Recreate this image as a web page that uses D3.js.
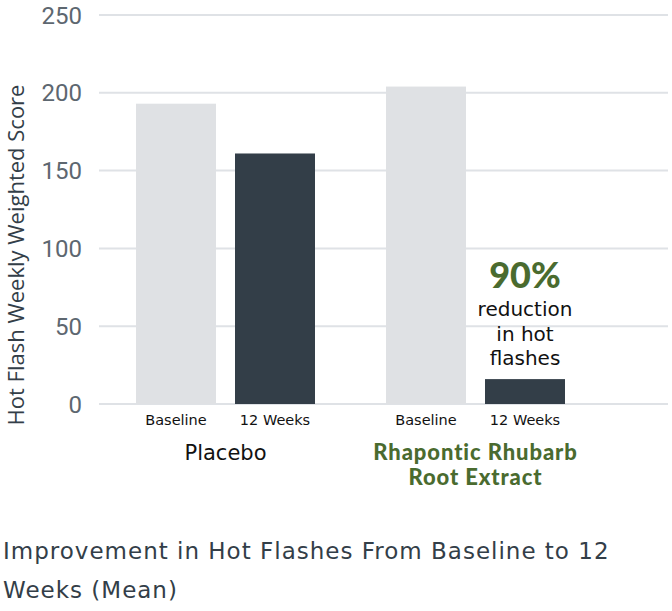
<!DOCTYPE html>
<html lang="en">
<head>
  <meta charset="UTF-8">
  <title>Improvement in Hot Flashes</title>
  <style>
    body { margin: 0; background: #fff; }
    .tick-label { font-family: Roboto, sans-serif; font-size: 24px; fill: #5d6770; }
    .axis-title { font-family: "Open Sans", sans-serif; font-size: 22px; fill: #333e48; }
    .period { font-family: "DejaVu Sans", sans-serif; font-size: 14.5px; fill: #111; }
    .group { font-family: "DejaVu Sans", sans-serif; font-size: 21px; fill: #111; }
    .group-bold { font-family: Lato, sans-serif; font-size: 22px; font-weight: 900; letter-spacing: 0.9px; }
    .note { font-family: "DejaVu Sans", sans-serif; font-size: 20px; fill: #111; }
    .title { font-family: "DejaVu Sans", sans-serif; font-size: 23px; fill: #333e48; letter-spacing: 1px; }
  </style>
</head>
<body>
  <svg id="chart" width="672" height="611"></svg>

  <script src="https://d3js.org/d3.v7.min.js"></script>
  <script>
    // chart data
    const groups = ['Placebo', 'Rhapontic Rhubarb Root Extract'];
    const periods = ['Baseline', '12 Weeks'];
    const placeboValues = [193, 161];
    const rhubarbValues = [204, 16];
    const yTicks = [0, 50, 100, 150, 200, 250];
    const groupLabelLines = [['Placebo'], ['Rhapontic Rhubarb', 'Root Extract']];
    const noteLines = ['reduction', 'in hot', 'flashes'];
    const noteValue = '90%';
    const titleLines = ['Improvement in Hot Flashes From Baseline to 12', 'Weeks (Mean)'];

    const green = '#4a6b2f';
    const barColors = { 'Baseline': '#dfe1e4', '12 Weeks': '#333e48' };

    const rows = [];
    groups.forEach((g, i) => {
      const vals = i === 0 ? placeboValues : rhubarbValues;
      periods.forEach((p, j) => rows.push({ group: g, period: p, value: vals[j] }));
    });

    const svg = d3.select('#chart');

    const y = d3.scaleLinear().domain([0, 250]).range([404, 15]);
    const x0 = d3.scaleBand().domain(groups).range([136, 565]).paddingInner(0.284).paddingOuter(0);
    const x1 = d3.scaleBand().domain(periods).range([0, x0.bandwidth()]).paddingInner(0.192).paddingOuter(0);

    // gridlines + tick labels
    const grid = svg.append('g');
    grid.selectAll('line')
      .data(yTicks)
      .enter().append('line')
      .attr('x1', 99).attr('x2', 668)
      .attr('y1', d => y(d)).attr('y2', d => y(d))
      .attr('stroke', '#dfe2e6')
      .attr('stroke-width', 2);
    grid.selectAll('text')
      .data(yTicks)
      .enter().append('text')
      .attr('class', 'tick-label')
      .attr('x', 82)
      .attr('y', d => y(d))
      .attr('dy', '0.36em')
      .attr('text-anchor', 'end')
      .text(d => d);

    svg.append('text')
      .attr('class', 'axis-title')
      .attr('transform', 'translate(24,255) rotate(-90)')
      .attr('text-anchor', 'middle')
      .text('Hot Flash Weekly Weighted Score');

    // bars
    svg.append('g').selectAll('rect')
      .data(rows)
      .enter().append('rect')
      .attr('x', d => x0(d.group) + x1(d.period))
      .attr('y', d => y(d.value))
      .attr('width', x1.bandwidth())
      .attr('height', d => y(0) - y(d.value))
      .attr('fill', d => barColors[d.period]);

    // period labels
    svg.append('g').selectAll('text')
      .data(rows)
      .enter().append('text')
      .attr('class', 'period')
      .attr('x', d => x0(d.group) + x1(d.period) + x1.bandwidth() / 2)
      .attr('y', 425)
      .attr('text-anchor', 'middle')
      .text(d => d.period);

    // group labels
    groups.forEach((g, i) => {
      groupLabelLines[i].forEach((line, k) => {
        svg.append('text')
          .attr('class', i === 0 ? 'group' : 'group-bold')
          .attr('fill', i === 0 ? '#111' : green)
          .attr('text-anchor', 'middle')
          .attr('x', x0(g) + x0.bandwidth() / 2)
          .attr('y', 459.5 + k * 25.5)
          .text(line);
      });
    });

    // annotation above the rhubarb 12-week bar
    const last = rows[rows.length - 1];
    const noteX = x0(last.group) + x1(last.period) + x1.bandwidth() / 2;
    svg.append('text')
      .attr('x', noteX)
      .attr('y', 288)
      .attr('text-anchor', 'middle')
      .attr('font-family', 'Lato, sans-serif')
      .attr('font-size', 36)
      .attr('font-weight', 900)
      .attr('fill', green)
      .text(noteValue);
    svg.append('g').selectAll('text')
      .data(noteLines)
      .enter().append('text')
      .attr('class', 'note')
      .attr('x', noteX)
      .attr('y', (d, i) => 316 + i * 24.5)
      .attr('text-anchor', 'middle')
      .text(d => d);

    // title
    svg.append('g').selectAll('text')
      .data(titleLines)
      .enter().append('text')
      .attr('class', 'title')
      .attr('x', 3)
      .attr('y', (d, i) => 559 + i * 39)
      .text(d => d);
  </script>
</body>
</html>
